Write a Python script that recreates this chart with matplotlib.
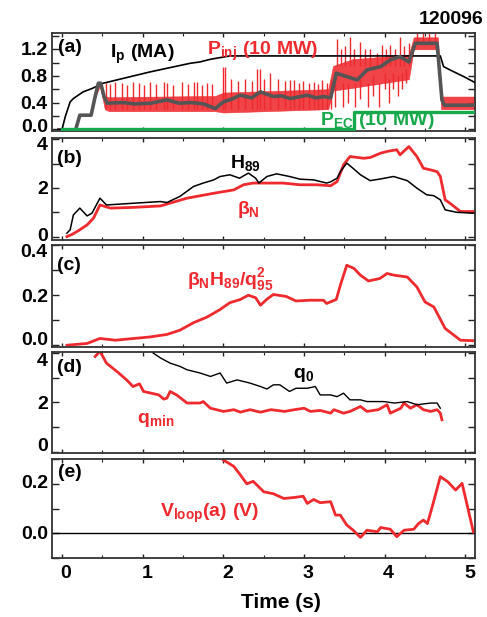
import numpy as np
import matplotlib
matplotlib.use("Agg")
import matplotlib.pyplot as plt
from matplotlib.ticker import MultipleLocator, FixedLocator, FixedFormatter
import matplotlib.transforms as mtransforms

plt.rcParams['font.family'] = ['Liberation Sans', 'DejaVu Sans']
plt.rcParams['font.weight'] = 'bold'
plt.rcParams['mathtext.fontset'] = 'custom'
plt.rcParams['mathtext.rm'] = 'Liberation Sans:bold'
plt.rcParams['mathtext.it'] = 'Liberation Sans:bold'
plt.rcParams['mathtext.bf'] = 'Liberation Sans:bold'

RED = '#ee2a2e'
GREEN = '#17a84b'
GRAY = '#555555'

# ---------------- data ----------------
shot = "120096"

# (a) plasma current (MA)
ip_t = [-0.05, 0.0, 0.04, 0.10, 0.14, 0.26, 0.37, 0.51, 1.09, 1.59, 1.71, 1.84, 2.08, 4.69, 4.73, 4.81, 4.98, 5.12]
ip_v = [0.0, 0.0, 0.19, 0.41, 0.46, 0.56, 0.61, 0.69, 0.86, 0.99, 1.01, 1.05, 1.10, 1.10, 0.94, 0.89, 0.79, 0.70]

# (a) injected power, smoothed (10 MW)
pavg_t = [0.17, 0.22, 0.36, 0.41, 0.45, 0.48, 0.52, 0.56, 0.75, 0.9, 1.1, 1.3, 1.45, 1.6, 1.75, 1.9, 2.0, 2.1, 2.21, 2.35,
          2.46, 2.62, 2.72, 2.83, 3.04, 3.15, 3.24, 3.33, 3.40, 3.53, 3.66, 3.78, 3.95, 4.07, 4.19, 4.30, 4.38, 4.65,
          4.71, 4.74, 5.12]
pavg_v = [0.0, 0.21, 0.21, 0.49, 0.69, 0.69, 0.49, 0.39, 0.40, 0.38, 0.39, 0.44, 0.39, 0.40, 0.38, 0.31, 0.41, 0.45,
          0.51, 0.47, 0.56, 0.49, 0.50, 0.46, 0.51, 0.47, 0.49, 0.47, 0.84, 0.79, 0.74, 0.89, 0.94, 1.04, 1.09, 1.01,
          1.29, 1.29, 0.44, 0.36, 0.36]

# (a) injected power, raw envelope (10 MW)
penv_t = [0.17, 0.20, 0.36, 0.40, 0.47, 0.53, 0.58, 1.90, 2.00, 3.30, 3.36, 3.60, 4.30, 4.36, 4.66, 4.70, 5.12]
penv_lo = [0.0, 0.20, 0.20, 0.45, 0.65, 0.30, 0.27, 0.27, 0.25, 0.30, 0.58, 0.62, 0.75, 1.20, 1.20, 0.30, 0.30]
penv_hi = [0.0, 0.22, 0.22, 0.55, 0.70, 0.50, 0.48, 0.50, 0.55, 0.60, 0.95, 1.05, 1.12, 1.38, 1.38, 0.49, 0.49]

# (a) raw power spikes (time, low, high)
spike_t = [0.55, 0.60, 0.66, 0.74, 0.80, 0.88, 0.95, 1.02, 1.09, 1.17, 1.26, 1.30, 1.38, 1.49, 1.56, 1.63, 1.67,
           1.74, 1.80, 1.86, 2.00, 2.02, 2.10, 2.18, 2.27, 2.35, 2.42, 2.46, 2.50, 2.58, 2.68, 2.76, 2.83, 2.87,
           2.94, 2.99, 3.06, 3.12, 3.17, 3.22, 3.28, 3.33,
           3.41, 3.46, 3.51, 3.57, 3.62, 3.70, 3.76, 3.82, 3.90, 3.97, 4.02, 4.07, 4.13, 4.19, 4.24, 4.30,
           3.39, 3.48, 3.55, 3.63, 3.69, 3.79, 3.86, 3.93, 4.00, 4.05, 4.10, 4.16, 4.22, 4.27,
           4.40, 4.48, 4.55, 4.62]
spike_lo = [0.30] * 42 + [0.95] * 16 + [0.34, 0.34, 0.40, 0.34, 0.45, 0.34, 0.50, 0.34, 0.60, 0.40, 0.60, 0.50,
                                         0.60, 0.70] + [1.30] * 4
spike_hi = [0.70, 0.68, 0.71, 0.70, 0.66, 0.71, 0.70, 0.66, 0.71, 0.68, 0.71, 0.70, 0.66, 0.71, 0.68, 0.71, 0.71,
            0.66, 0.70, 0.68, 0.94, 0.94, 0.76, 0.72, 0.76, 0.72, 0.91, 0.91, 0.76, 0.84, 0.76, 0.72, 0.74, 0.74,
            0.70, 0.72, 0.70, 0.71, 0.68, 0.74, 0.70, 0.74,
            1.36, 1.20, 1.25, 1.39, 1.20, 1.31, 1.20, 1.21, 1.15, 1.26, 1.20, 1.26, 1.20, 1.39, 1.25, 1.29,
            0.70, 0.70, 0.70, 0.70, 0.75, 0.70, 0.80, 0.70, 0.85, 0.75, 0.85, 0.80, 0.85, 0.90,
            1.45, 1.45, 1.45, 1.45]

# (a) EC power (10 MW)
pec_t = [0.0, 3.62, 3.62, 5.12]
pec_v = [0.0, 0.0, 0.255, 0.255]

# (b) H89 and beta_N
h89_t = [0.06, 0.10, 0.14, 0.22, 0.31, 0.37, 0.47, 0.55, 0.88, 1.22, 1.30, 1.46, 1.63, 1.75, 1.88, 1.96, 2.08, 2.20,
         2.31, 2.40, 2.44, 2.54, 2.66, 2.82, 2.95, 3.12, 3.28, 3.33, 3.41, 3.45, 3.53, 3.61, 3.70, 3.82, 3.95, 4.11,
         4.28, 4.40, 4.52, 4.61, 4.69, 4.75, 4.89, 5.10]
h89_v = [0.14, 0.28, 0.89, 1.17, 0.85, 0.96, 1.58, 1.30, 1.37, 1.44, 1.40, 1.65, 2.06, 2.20, 2.33, 2.47, 2.54, 2.40,
         2.61, 2.40, 2.20, 2.47, 2.58, 2.47, 2.36, 2.33, 2.20, 2.25, 2.40, 2.67, 3.02, 2.80, 2.54, 2.30, 2.37, 2.47,
         2.30, 1.99, 1.72, 1.68, 1.51, 1.10, 1.00, 0.96]
bn_t = [0.06, 0.13, 0.22, 0.31, 0.39, 0.47, 0.60, 0.88, 1.22, 1.55, 1.88, 2.13, 2.25, 2.37, 2.54, 2.74, 2.95, 3.16,
        3.33, 3.41, 3.49, 3.57, 3.74, 3.82, 3.95, 4.03, 4.15, 4.19, 4.30, 4.40, 4.48, 4.57, 4.65, 4.69, 4.75, 4.81,
        4.94, 5.10]
bn_v = [0.0, 0.10, 0.28, 0.48, 0.76, 1.30, 1.17, 1.20, 1.26, 1.58, 1.78, 1.92, 2.13, 2.20, 2.20, 2.20, 2.13, 2.13,
        2.09, 2.26, 2.95, 3.29, 3.22, 3.25, 3.43, 3.50, 3.57, 3.36, 3.70, 3.29, 2.81, 2.74, 2.67, 2.47, 1.51, 1.37,
        1.03, 1.03]

# (c) beta_N H89 / q95^2
g_t = [0.06, 0.31, 0.47, 0.66, 1.09, 1.30, 1.46, 1.63, 1.80, 1.96, 2.08, 2.21, 2.31, 2.40, 2.46, 2.54, 2.62, 2.78,
       2.90, 3.08, 3.24, 3.28, 3.40, 3.45, 3.53, 3.62, 3.70, 3.80, 3.94, 4.03, 4.12, 4.28, 4.40, 4.50, 4.61, 4.75,
       4.94, 5.10]
g_v = [0.0, 0.007, 0.027, 0.020, 0.033, 0.043, 0.060, 0.090, 0.113, 0.143, 0.170, 0.183, 0.200, 0.190, 0.160, 0.184,
       0.203, 0.195, 0.177, 0.180, 0.180, 0.167, 0.183, 0.240, 0.320, 0.307, 0.280, 0.257, 0.267, 0.287, 0.280, 0.273,
       0.233, 0.173, 0.153, 0.067, 0.020, 0.018]

# (d) q0 and qmin
q0_t = [1.13, 1.22, 1.34, 1.46, 1.55, 1.71, 1.84, 1.96, 2.04, 2.17, 2.33, 2.46, 2.54, 2.62, 2.70, 2.82, 2.90, 3.04,
        3.14, 3.20, 3.33, 3.41, 3.49, 3.57, 3.70, 3.78, 3.99, 4.12, 4.28, 4.40, 4.57, 4.65, 4.69]
q0_v = [4.00, 3.80, 3.59, 3.46, 3.32, 3.19, 3.05, 3.19, 2.78, 2.91, 2.78, 2.64, 2.54, 2.71, 2.71, 2.44, 2.57, 2.57,
        2.64, 2.30, 2.30, 2.23, 2.37, 2.10, 2.10, 2.03, 2.03, 1.97, 2.03, 1.90, 1.97, 1.97, 1.76]
qmin_t = [0.41, 0.47, 0.55, 0.68, 0.80, 0.88, 0.96, 1.01, 1.20, 1.26, 1.30, 1.34, 1.42, 1.55, 1.71, 1.75, 1.84, 2.00,
          2.13, 2.21, 2.33, 2.46, 2.59, 2.76, 2.88, 3.00, 3.08, 3.20, 3.33, 3.37, 3.49, 3.57, 3.70, 3.78, 3.92, 4.03,
          4.07, 4.20, 4.24, 4.32, 4.40, 4.48, 4.57, 4.65, 4.69, 4.71]
qmin_v = [3.86, 4.07, 3.59, 3.25, 2.91, 2.64, 2.75, 2.44, 2.30, 2.13, 2.17, 2.44, 2.30, 1.97, 1.97, 2.03, 1.76, 1.63,
          1.70, 1.60, 1.70, 1.60, 1.70, 1.63, 1.70, 1.76, 1.63, 1.67, 1.56, 1.70, 1.56, 1.63, 1.83, 1.63, 1.70, 1.90,
          1.56, 1.76, 1.97, 1.76, 1.90, 1.70, 1.63, 1.70, 1.56, 1.29]

# (e) loop voltage at edge (V)
vl_t = [2.00, 2.13, 2.21, 2.29, 2.37, 2.50, 2.62, 2.75, 2.88, 2.99, 3.04, 3.12, 3.20, 3.33, 3.39, 3.45, 3.53, 3.61,
        3.70, 3.78, 3.91, 3.95, 4.07, 4.15, 4.24, 4.36, 4.42, 4.48, 4.53, 4.59, 4.69, 4.78, 4.88, 4.96, 5.10]
vl_v = [0.296, 0.270, 0.236, 0.200, 0.210, 0.168, 0.160, 0.141, 0.145, 0.150, 0.121, 0.137, 0.124, 0.128, 0.074,
        0.074, 0.034, 0.013, -0.016, 0.013, 0.007, 0.024, 0.017, -0.013, 0.013, 0.017, 0.040, 0.054, 0.040, 0.108,
        0.229, 0.209, 0.175, 0.202, 0.006]

# ---------------- figure ----------------
fig = plt.figure(figsize=(4.87, 6.17), dpi=100)
L, W = 52 / 487, 423 / 487
boxes = [(33.3, 130.5), (138.3, 240.0), (245.0, 346.7), (352.3, 453.3), (459.0, 558.3)]
axes = []
for top, bot in boxes:
    ax = fig.add_axes([L, 1 - bot / 617, W, (bot - top) / 617])
    axes.append(ax)

ylims = [(-0.02, 1.44), (-0.14, 4.04), (-0.006, 0.401), (-0.07, 4.03), (-0.1, 0.3)]
ymaj = [[0, 0.4, 0.8, 1.2], [0, 2, 4], [0.0, 0.2, 0.4], [0, 2, 4], [0.0, 0.2]]
ylab = [["0.0", "0.4", "0.8", "1.2"], ["0", "2", "4"], ["0.0", "0.2", "0.4"], ["0", "2", "4"], ["0.0", "0.2"]]
ymin = [0.2, 1, 0.1, 1, 0.1]
# vertical nudges of the y tick labels (pixels, + = up)
ynudge = [[4, 0, 0, 1], [2, 0, -4], [7, 0, -5], [7, 0, -6], [1, 2]]

offset = mtransforms.ScaledTranslation(4 / 100, 0, fig.dpi_scale_trans)
for i, ax in enumerate(axes):
    ax.set_xlim(-0.125, 5.12)
    ax.set_ylim(*ylims[i])
    ax.xaxis.set_major_locator(MultipleLocator(1))
    ax.xaxis.set_minor_locator(MultipleLocator(0.5))
    ax.yaxis.set_major_locator(FixedLocator(ymaj[i]))
    ax.yaxis.set_major_formatter(FixedFormatter(ylab[i]))
    ax.yaxis.set_minor_locator(MultipleLocator(ymin[i]))
    ax.tick_params(axis='both', which='both', direction='in', top=True, right=True, colors='#222222')
    ax.tick_params(axis='y', which='both', length=5, width=1.0)
    ax.tick_params(axis='x', which='major', length=3, width=1.0)
    ax.tick_params(axis='x', which='minor', length=2, width=0.8)
    ax.tick_params(axis='y', labelsize=14, pad=3, labelcolor='black')
    ax.tick_params(axis='x', labelsize=14, pad=5, labelcolor='black')
    for s in ax.spines.values():
        s.set_linewidth(1.3)
        s.set_color('#333333')
    for lbl, dy in zip(ax.get_yticklabels(), ynudge[i]):
        lbl.set_transform(lbl.get_transform() +
                          mtransforms.ScaledTranslation(0, dy / 100, fig.dpi_scale_trans))
    if i < 4:
        ax.tick_params(axis='x', labelbottom=False)
    else:
        for lbl in ax.get_xticklabels():
            lbl.set_transform(lbl.get_transform() + offset)

# (a)
ax = axes[0]
ax.fill_between(penv_t, penv_lo, penv_hi, color=RED, lw=0.4, alpha=0.88, zorder=2)
ax.vlines(spike_t, spike_lo, spike_hi, color=RED, lw=1.0, zorder=2)
ax.plot(ip_t, ip_v, color='black', lw=1.2, zorder=3)
ax.plot(pavg_t, pavg_v, color=GRAY, lw=2.6, zorder=4)
ax.plot(pec_t, pec_v, color=GREEN, lw=2.4, zorder=5)
ax.text(0.014, 0.854, "(a)", transform=ax.transAxes, fontsize=14, va='center', ha='left')
ax.text(0.137, 0.746, r"$\mathrm{I_p\ (MA)}$", transform=ax.transAxes, fontsize=14, va='baseline', ha='left')
ax.text(0.366, 0.777, r"$\mathrm{P_{inj}\ (10\ MW)}$", transform=ax.transAxes, fontsize=14, va='baseline',
        ha='left', color=RED, zorder=6)
ax.text(0.634, 0.057, r"$\mathrm{P_{EC}\ (10\ MW)}$", transform=ax.transAxes, fontsize=14, va='baseline',
        ha='left', color=GREEN, zorder=6)

# (b)
ax = axes[1]
ax.plot(h89_t, h89_v, color='black', lw=1.1, zorder=3)
ax.plot(bn_t, bn_v, color=RED, lw=2.0, zorder=2)
ax.text(0.012, 0.806, "(b)", transform=ax.transAxes, fontsize=14, va='center', ha='left')
ax.text(0.421, 0.708, r"$\mathrm{H_{89}}$", transform=ax.transAxes, fontsize=14, va='baseline', ha='left')
ax.text(0.437, 0.256, r"$\beta_\mathrm{N}$", transform=ax.transAxes, fontsize=14, va='baseline', ha='left',
        color=RED)

# (c)
ax = axes[2]
ax.plot(g_t, g_v, color=RED, lw=2.0)
ax.text(0.012, 0.80, "(c)", transform=ax.transAxes, fontsize=14, va='center', ha='left')
ax.text(0.319, 0.607, r"$\beta_\mathrm{N}\mathrm{H_{89}/q_{95}^2}$", transform=ax.transAxes, fontsize=14,
        va='baseline', ha='left', color=RED)

# (d)
ax = axes[3]
ax.plot(q0_t, q0_v, color='black', lw=1.0, zorder=3)
ax.plot(qmin_t, qmin_v, color=RED, lw=2.0, zorder=2)
ax.text(0.012, 0.845, "(d)", transform=ax.transAxes, fontsize=14, va='center', ha='left')
ax.text(0.570, 0.745, r"$\mathrm{q_0}$", transform=ax.transAxes, fontsize=14, va='baseline', ha='left')
ax.text(0.201, 0.300, r"$\mathrm{q_{min}}$", transform=ax.transAxes, fontsize=14, va='baseline', ha='left',
        color=RED)

# (e)
ax = axes[4]
ax.axhline(0.0, color='black', lw=1.0)
ax.plot(vl_t, vl_v, color=RED, lw=2.0)
ax.text(0.014, 0.864, "(e)", transform=ax.transAxes, fontsize=14, va='center', ha='left')
ax.text(0.255, 0.416, r"$\mathrm{V_{loop}(a)\ (V)}$", transform=ax.transAxes, fontsize=14, va='baseline',
        ha='left', color=RED)

fig.text(0.577, 0.023, "Time (s)", fontsize=15, ha='center', va='center')
fig.text(0.992, 0.968, shot, fontsize=14, ha='right', va='center')

fig.savefig("out.png", dpi=100)
